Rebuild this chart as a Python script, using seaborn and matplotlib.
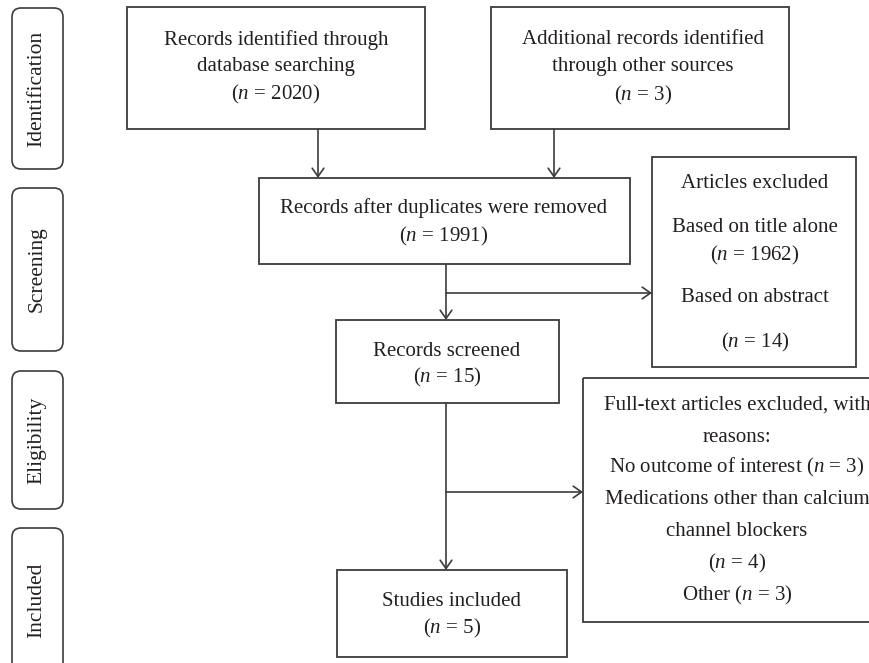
import matplotlib
matplotlib.use("Agg")
import matplotlib.pyplot as plt
from matplotlib.patches import Rectangle, FancyBboxPatch
import seaborn as sns

# ---- data ----
stages = ["Identification", "Screening", "Eligibility", "Included"]
n_database = 2020
n_other = 3
n_after_dup = 1991
n_title_excl = 1962
n_abstract_excl = 14
n_screened = 15
n_no_outcome = 3
n_other_meds = 4
n_other_reason = 3
n_included = 5

N = r"$\mathit{n}$"

sns.set_theme(style="white")
plt.rcParams["font.family"] = ["Liberation Serif", "DejaVu Serif"]
plt.rcParams["mathtext.fontset"] = "custom"
plt.rcParams["mathtext.it"] = "Liberation Serif:italic"
plt.rcParams["mathtext.rm"] = "Liberation Serif"

fig = plt.figure(figsize=(8.7, 6.63), dpi=100)
ax = fig.add_axes([0, 0, 1, 1])
ax.set_xlim(0, 870)
ax.set_ylim(663, 0)
ax.axis("off")

LC = "#3c3c3c"
TC = "#231f20"
FS = 15

def box(x0, y0, x1, y1):
    ax.add_patch(Rectangle((x0, y0), x1 - x0, y1 - y0, fill=False,
                           edgecolor=LC, lw=1.3))

def lines(cx, ys, texts):
    for y, t in zip(ys, texts):
        ax.text(cx, y, t, ha="center", va="center", fontsize=FS, color=TC)

def arrow(x0, y0, x1, y1):
    ax.annotate("", xy=(x1, y1), xytext=(x0, y0),
                arrowprops=dict(arrowstyle="->,head_length=0.5,head_width=0.35",
                                color=LC, lw=1.2, shrinkA=0, shrinkB=0))

# side stage labels
side = [(8, 169), (188, 351), (371, 509), (528, 672)]
for (y0, y1), lab in zip(side, stages):
    ax.add_patch(FancyBboxPatch((12, y0), 51, y1 - y0,
                                boxstyle="round,pad=0,rounding_size=9",
                                fill=False, edgecolor=LC, lw=1.2))
    ax.text(37, (y0 + y1) / 2, lab, rotation=90, ha="center", va="center",
            fontsize=15.5, color=TC)

# boxes
box(127, 7, 425, 129)
lines(276, [40, 67, 94], ["Records identified through", "database searching",
                          f"({N} = {n_database})"])
box(491, 7, 789, 129)
lines(643, [40, 67, 95], ["Additional records identified", "through other sources",
                          f"({N} = {n_other})"])
box(259, 178, 630, 264)
lines(444, [208, 236], ["Records after duplicates were removed",
                        f"({N} = {n_after_dup})"])
box(652, 157, 856, 367)
lines(755, [183, 228, 255, 298, 342],
      ["Articles excluded", "Based on title alone", f"({N} = {n_title_excl})",
       "Based on abstract", f"({N} = {n_abstract_excl})"])
box(336, 320, 559, 403)
lines(447, [351, 377], ["Records screened", f"({N} = {n_screened})"])
box(583, 378, 900, 622)
lines(737, [405, 437, 467, 500, 532, 563, 595],
      ["Full-text articles excluded, with", "reasons:",
       f"No outcome of interest ({N} = {n_no_outcome})",
       "Medications other than calcium", "channel blockers",
       f"({N} = {n_other_meds})", f"Other ({N} = {n_other_reason})"])
box(337, 570, 567, 657)
lines(452, [602, 628], ["Studies included", f"({N} = {n_included})"])

# arrows
arrow(318, 129, 318, 178)
arrow(554, 129, 554, 178)
ax.plot([446, 446], [264, 293], color=LC, lw=1.2)
arrow(446, 293, 446, 320)
arrow(446, 293, 652, 293)
ax.plot([446, 446], [403, 492], color=LC, lw=1.2)
arrow(446, 492, 446, 570)
arrow(446, 492, 583, 492)

fig.savefig("out.png", dpi=100)
